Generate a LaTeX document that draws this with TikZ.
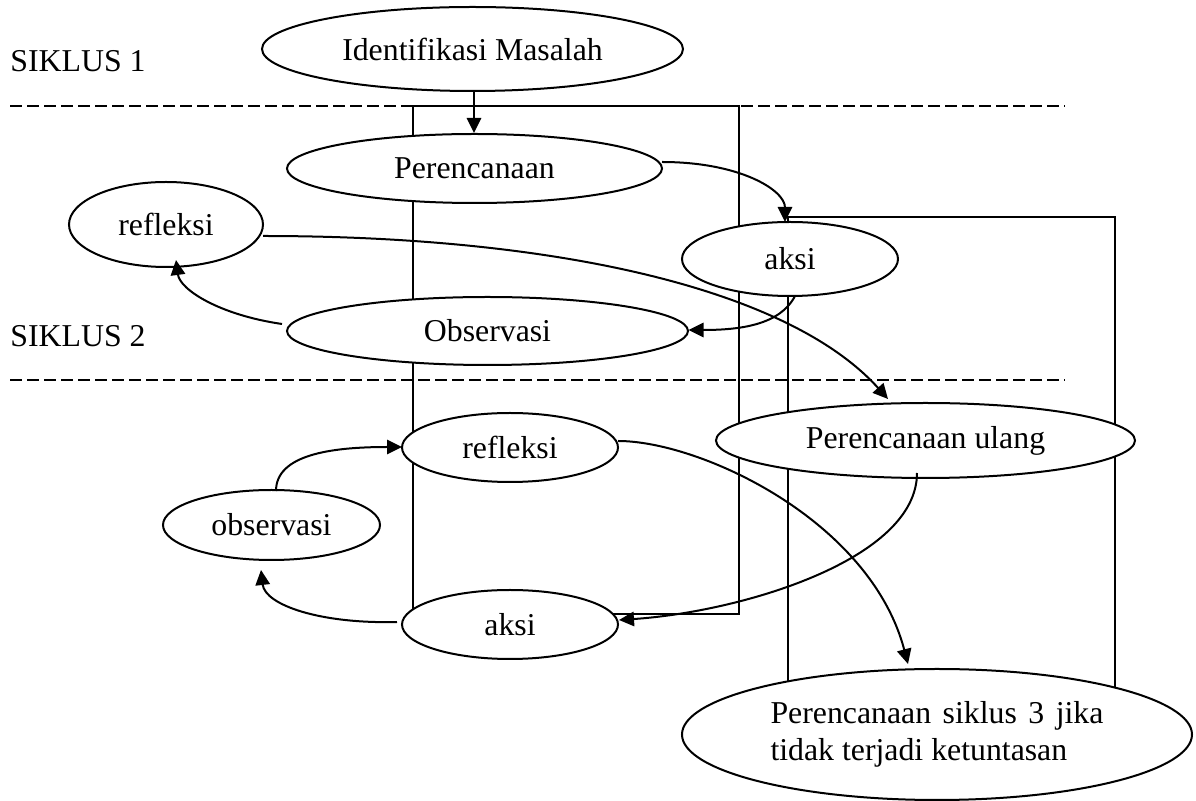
\documentclass[tikz,border=0pt]{standalone}
\usepackage{fontspec}
\setmainfont{Liberation Serif}
\usetikzlibrary{shapes.geometric,arrows.meta,calc}
\begin{document}
\begin{tikzpicture}[x=0.5pt,y=-0.5pt,
  every node/.style={font=\fontsize{15.9}{18.5}\selectfont},
  oval/.style={ellipse,draw,line width=1pt,fill=white,inner sep=0pt},
  conn/.style={line width=1pt,-{Triangle[length=7.5pt,width=7.2pt]}},
  frame/.style={draw,line width=1pt},
  divider/.style={line width=1pt,dash pattern=on 5.8pt off 2.7pt}]
\useasboundingbox (0,0) rectangle (1196,801);
% dividers
\draw[divider] (10,106.5) -- (1065,106.5);
\draw[divider] (10,380) -- (1065,380);
% frames
\draw[frame] (413,106.5) rectangle (739,614.5);
\draw[frame] (788,217) rectangle (1115,720);
% nodes
\node[oval,minimum width=210.5pt,minimum height=42pt] (idm) at (472.5,49) {Identifikasi Masalah};
\node[oval,minimum width=187.5pt,minimum height=34.5pt] (per1) at (474.5,168.5) {Perencanaan};
\node[oval,minimum width=97pt,minimum height=42.5pt] (refl1) at (166,224.5) {refleksi};
\node[oval,minimum width=200.5pt,minimum height=34pt] (obs1) at (487.5,331) {Observasi};
\node[oval,minimum width=108pt,minimum height=37pt] (aksi1) at (790,259) {aksi};
\node[oval,minimum width=209.5pt,minimum height=37.5pt] (perul) at (925.5,440.5) {Perencanaan ulang};
\node[oval,minimum width=108pt,minimum height=34.5pt] (refl2) at (510,447.5) {refleksi};
\node[oval,minimum width=108.5pt,minimum height=35pt] (obs2) at (271.5,525) {observasi};
\node[oval,minimum width=108pt,minimum height=34.5pt] (aksi2) at (510,624.5) {aksi};
\node[oval,minimum width=255pt,minimum height=65.5pt,align=left] (big) at (937,734.5)
  {\makebox[166.5pt][s]{Perencanaan siklus 3 jika}\\tidak terjadi ketuntasan};
% labels
\node[anchor=base west,inner sep=0pt] (s1) at (10,72) {SIKLUS 1};
\node[anchor=base west,inner sep=0pt] (s2) at (10,347) {SIKLUS 2};
% connectors
\draw[conn] ($(idm.south)+(1.5,0)$) -- ($(idm.south |- per1.north)+(1.5,0)$);
\draw[conn] ($(per1)+(187.5,-6.5)$) .. controls ($(per1)+(265,-6.5)$) and ($(aksi1)+(-5,-69)$) .. ($(aksi1)+(-5,-37)$);
\draw[conn] ($(aksi1)+(5,37)$) .. controls ($(aksi1)+(-10,66)$) and ($(obs1)+(252.5,-1)$) .. ($(obs1)+(201,-1)$);
\draw[conn] ($(obs1)+(-205.5,-7)$) .. controls ($(obs1)+(-267.5,-16)$) and ($(refl1)+(14,65.5)$) .. ($(refl1)+(10,35.5)$);
\draw[conn] ($(refl1)+(97,11.5)$) .. controls ($(refl1)+(394,11.5)$) and ($(perul)+(-135.5,-150.5)$) .. ($(perul)+(-37.5,-41.5)$);
\draw[conn] ($(perul)+(-8.5,32.5)$) .. controls ($(perul)+(-8.5,119.5)$) and ($(aksi2)+(230,-12.5)$) .. ($(aksi2)+(109,-4.5)$);
\draw[conn] ($(aksi2)+(-113,-2.5)$) .. controls ($(aksi2)+(-190,-0.5)$) and ($(obs2)+(-6.5,80)$) .. ($(obs2)+(-10.5,45)$);
\draw[conn] ($(obs2)+(4.5,-34)$) .. controls ($(obs2)+(4.5,-70)$) and ($(refl2)+(-180,-0.5)$) .. ($(refl2)+(-108,-0.5)$);
\draw[conn] ($(refl2)+(108,-6.5)$) .. controls ($(refl2)+(190,-6.5)$) and ($(big)+(-67,-214.5)$) .. ($(big)+(-29,-70.5)$);
\end{tikzpicture}
\end{document}
